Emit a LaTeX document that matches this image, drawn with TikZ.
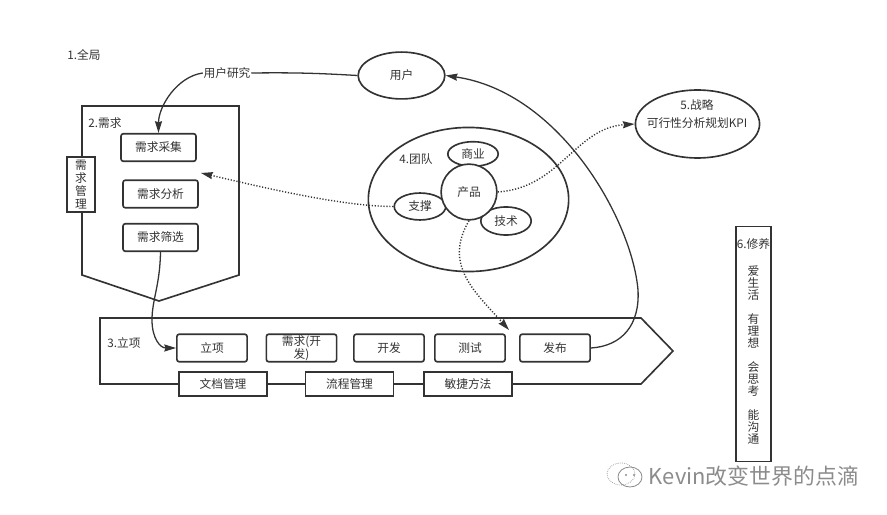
\documentclass[tikz,border=0pt]{standalone}
\usepackage{fontspec}
\setmainfont{Noto Sans CJK SC}
\usetikzlibrary{shapes.geometric, arrows.meta}
\definecolor{inkc}{HTML}{333333}
\definecolor{markc}{HTML}{8C8C8C}
\tikzset{
    every node/.style={font=\fontsize{10}{11}\selectfont, text=inkc, inner sep=0pt},
    stepbox/.style={draw=inkc, fill=white, rectangle, rounded corners=2pt, minimum height=23.5pt},
    flatbox/.style={draw=inkc, fill=white, rectangle, minimum width=75pt, minimum height=20pt},
    oval/.style={draw=inkc, fill=white, ellipse},
    flow/.style={draw=inkc, line width=1.1pt},
    dots/.style={draw=inkc, line width=1.2pt, dash pattern=on 1pt off 1.5pt},
}
\begin{document}
\begin{tikzpicture}[x=0.03cm, y=-0.03cm, line width=1.4pt, >={Stealth[length=10pt,width=6pt,inset=1pt]}]
    \useasboundingbox (0,0) rectangle (887,515);

    % --- Outlines ---
    % Needs: pentagon pointing down
    \draw[inkc] (82,106) -- (239,106) -- (239,275) -- (159,301) -- (82,275) -- cycle;
    % Project: arrow pointing right
    \draw[inkc] (100,318) -- (641,318) -- (673,351) -- (641,384) -- (100,384) -- cycle;

    % --- Labels ---
    \node (quanju) at (84,55) {1.全局};
    \node (xuqiu) at (105,123) {2.需求};
    \node (lixiang) at (124,343) {3.立项};

    % --- Needs ---
    \node[draw=inkc, fill=white, minimum width=24pt, minimum height=47pt, align=center] (guanli) at (81,184.5) {需\\求\\管\\理};
    \node[stepbox, minimum width=64pt] (caiji) at (158.5,147.5) {需求采集};
    \node[stepbox, minimum width=64pt] (fenxi) at (160.5,194) {需求分析};
    \node[stepbox, minimum width=64pt] (shaixuan) at (160.5,237.5) {需求筛选};

    % --- Project steps ---
    \node[stepbox, minimum width=60pt] (lx) at (212,348) {立项};
    \node[stepbox, minimum width=60pt, align=center] (xq) at (301.5,348) {需求(开\\发)};
    \node[stepbox, minimum width=60pt] (kf) at (389,348) {开发};
    \node[stepbox, minimum width=60pt] (cs) at (470,348) {测试};
    \node[stepbox, minimum width=60pt] (fb) at (555,348) {发布};
    \node[flatbox] (wendang) at (223,384) {文档管理};
    \node[flatbox] (liucheng) at (349.5,384) {流程管理};
    \node[flatbox] (minjie) at (468,384) {敏捷方法};

    % --- Team ---
    \node[oval, minimum width=171pt, minimum height=123pt] (team) at (468.5,199.5) {};
    \node (tuandui) at (416,159) {4.团队};
    \node[oval, minimum width=43pt, minimum height=21pt] (shangye) at (473,154) {商业};
    \node[oval, minimum width=44pt, minimum height=23pt] (zhicheng) at (420,206.5) {支撑};
    \node[oval, minimum width=43pt, minimum height=24pt] (jishu) at (506,221) {技术};
    \node[oval, circle, minimum size=47.6pt] (chanpin) at (469,192) {产品};

    % --- Outer nodes ---
    \node[oval, minimum width=74pt, minimum height=40pt] (yonghu) at (401.5,75.5) {用户};
    \node[oval, minimum width=106pt, minimum height=58pt, align=center] (zhanlue) at (697.5,124) {};
    \node (zhanluet) at (697,105) {5.战略};
    \node (kexing) at (697,123) {可行性分析规划KPI};
    \node[draw=inkc, fill=white, minimum width=30pt, minimum height=200.5pt, align=center, font=\fontsize{10}{10.2}\selectfont] (xiuyang) at (753.5,344) {6.修养\\[13pt]爱\\生\\活\\[10.2pt]有\\理\\想\\[10.2pt]会\\思\\考\\[10.2pt]能\\沟\\通\rule[-5pt]{0pt}{5pt}};
    \node (yanjiu) at (227,73) {用户研究};

    % --- Connectors ---
    \coordinate (zhicheng-end) at (201,173);
    \coordinate (test-end) at (509,330);
    \draw[flow] (yonghu.west) to[bend right=2] (yanjiu.east);
    \draw[flow, ->] (yanjiu.west) to[out=188, in=90, looseness=0.9] (caiji.north);
    \draw[flow, ->] (shaixuan.south) .. controls (160,285) and (152,300) .. (152,320) .. controls (152,338) and (160,348) .. (lx.west);
    \draw[flow, ->] (fb.east) .. controls (622,346) and (640,325) .. (638,290) .. controls (632,220) and (560,92) .. (yonghu.east);

    \draw[dots, ->] (zhicheng.west) to[out=180, in=-13, looseness=0.7] (zhicheng-end);
    \draw[dots, ->] (chanpin.east) .. controls (560,188) and (575,128) .. (zhanlue.west);
    \draw[dots, ->] (chanpin.south) .. controls (443,265) and (475,292) .. (test-end);

    % --- Watermark ---
    \draw[markc, line width=0.6pt, densely dotted] (621,474) ellipse (14 and 11);
    \draw[markc, line width=0.7pt] (630,477) ellipse (12 and 10);
    \fill[markc] (626,475) circle (1.2) (634,475) circle (1.2);
    \node[font=\fontsize{18.7}{20}\selectfont, text=markc] (kevin) at (754,476) {Kevin改变世界的点滴};
\end{tikzpicture}
\end{document}
